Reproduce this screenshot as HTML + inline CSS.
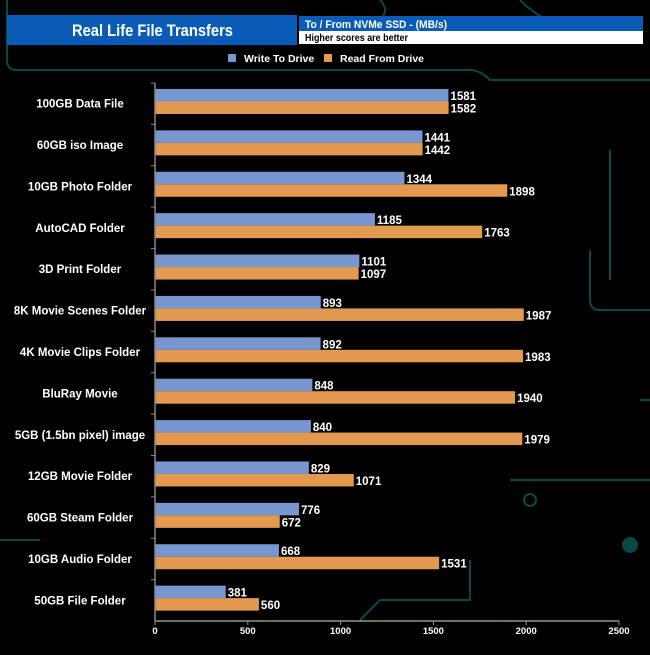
<!DOCTYPE html>
<html><head><meta charset="utf-8"><style>
body{margin:0;background:#000;font-family:"Liberation Sans",sans-serif}
svg text{font-family:"Liberation Sans",sans-serif;font-weight:bold}
</style></head><body>
<svg id="c" width="650" height="650" xmlns="http://www.w3.org/2000/svg">
<rect width="650" height="650" fill="#000"/>
<g stroke="#0d5a5a" stroke-width="2" fill="none" opacity="0.8">
<path d="M7 0 V60 Q7 70 17 70 H470 Q480 70 490 80 H650"/>
<path d="M380 0 Q390 10 380 20"/><path d="M520 0 Q560 40 640 40"/>
<path d="M590 250 V300 Q590 310 600 310 H650"/><path d="M610 150 V280"/>
<path d="M360 620 L380 600 H470 V560"/><path d="M0 540 H40"/><path d="M510 480 H650"/>
<path d="M640 400 H650"/><circle cx="630" cy="545" r="7" fill="#0d5a5a"/><circle cx="530" cy="500" r="6"/>
</g>
<rect x="7" y="15" width="290" height="30" fill="#0a5bb5"/>
<text x="72" y="36" fill="#fff" font-size="17" textLength="161" lengthAdjust="spacingAndGlyphs">Real Life File Transfers</text>
<rect x="299" y="16" width="344" height="15" fill="#0a5bb5"/>
<rect x="299" y="31" width="344" height="13" fill="#fff"/>
<text x="305" y="28" fill="#fff" font-size="11" textLength="142" lengthAdjust="spacingAndGlyphs">To /  From NVMe  SSD - (MB/s)</text>
<text x="305" y="41" fill="#000" font-size="10.5" textLength="103" lengthAdjust="spacingAndGlyphs">Higher scores are better</text>
<g>
<rect x="228" y="54" width="8" height="8" fill="#7896d0"/>
<text x="244" y="62" fill="#fff" font-size="10.5">Write To  Drive</text>
<rect x="324" y="54" width="8" height="8" fill="#e39a50"/>
<text x="340" y="62" fill="#fff" font-size="10.5">Read From  Drive</text>
</g>
<g id="plot"></g>
</svg>
<script>
const categories=["100GB Data File","60GB iso Image","10GB Photo Folder","AutoCAD Folder","3D Print Folder","8K Movie Scenes Folder","4K Movie Clips Folder","BluRay Movie","5GB (1.5bn pixel) image","12GB Movie Folder","60GB Steam Folder","10GB Audio Folder","50GB File Folder"];
const writeValues=[1581,1441,1344,1185,1101,893,892,848,840,829,776,668,381];
const readValues=[1582,1442,1898,1763,1097,1987,1983,1940,1979,1071,672,1531,560];
const ticks=[0,500,1000,1500,2000,2500];
const NS="http://www.w3.org/2000/svg";
const g=document.getElementById('plot');
const x0=155,x1=619,yTop=83,yBot=621,xMax=2500;
const band=(yBot-yTop)/categories.length;
const xs=v=>x0+(v/xMax)*(x1-x0);
const yb=i=>yTop+i*band;
function mk(t,a){const e=document.createElementNS(NS,t);for(const k in a)e.setAttribute(k,a[k]);g.appendChild(e);return e;}
categories.forEach((c,i)=>{
 const y=yb(i)+6;
 let r=mk('rect',{x:x0,y:y,width:xs(writeValues[i])-x0,height:12.5,fill:'#7896d0'});
 
 
 r=mk('rect',{x:x0,y:y+12.5,width:xs(readValues[i])-x0,height:12.5,fill:'#e39a50'});
 
 
 let t=mk('text',{x:xs(writeValues[i])+2,y:y+11,fill:'#fff','font-size':11.5});t.textContent=writeValues[i];
 
 
 t=mk('text',{x:xs(readValues[i])+2,y:y+23.5,fill:'#fff','font-size':11.5});t.textContent=readValues[i];
 
 
 t=mk('text',{x:80,y:yb(i)+band/2+4,fill:'#fff','font-size':11.5,'text-anchor':'middle'});t.textContent=c;
 
 
 const tk=mk('line',{x1:x0-4,x2:x0,y1:yb(i),y2:yb(i),stroke:'#888'});
 
 
});
let ax=mk('line',{x1:x0,x2:x0,y1:yTop,y2:yBot,stroke:'#888','stroke-width':1.5});


ax=mk('line',{x1:x0,x2:x1,y1:yBot,y2:yBot,stroke:'#8a9a80','stroke-width':1.5});


ticks.forEach(v=>{
 const l=mk('line',{x1:xs(v),x2:xs(v),y1:yBot,y2:yBot+4,stroke:'#8a9a80'});
 
 
 const t=mk('text',{x:xs(v),y:yBot+13,fill:'#fff','font-size':9.5,'text-anchor':'middle'});t.textContent=v;
 
 
});
</script>
</body></html>
